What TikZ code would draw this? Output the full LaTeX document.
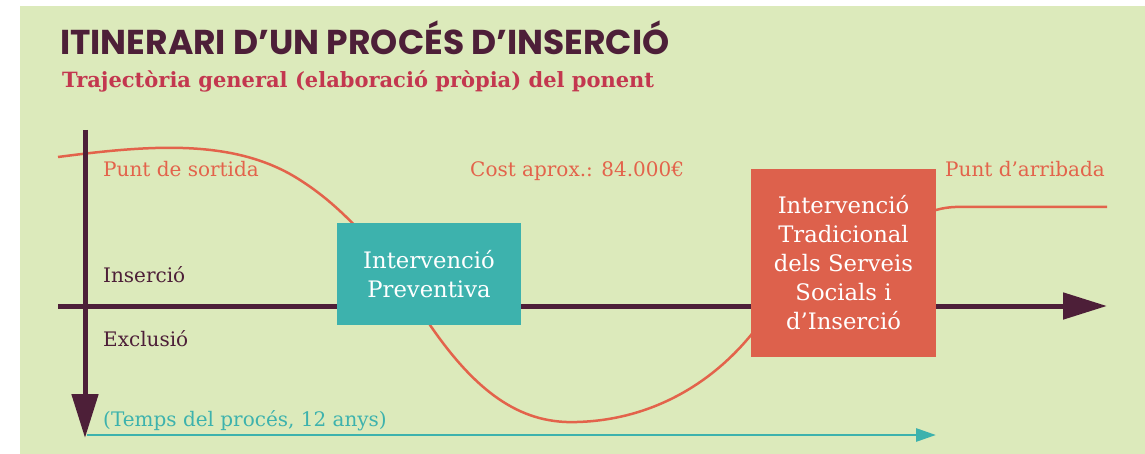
\documentclass[tikz,border=0pt]{standalone}
\usepackage{fontspec}
\usetikzlibrary{arrows.meta}
\setmainfont{DejaVu Serif}
\newfontfamily\titlefont{Poppins}
\newfontfamily\subfont{DejaVu Serif}
\definecolor{bggreen}{HTML}{DCEABB}
\definecolor{maroon}{HTML}{4D1F38}
\definecolor{curvered}{HTML}{E3634B}
\definecolor{tealc}{HTML}{3DB2AD}
\definecolor{boxred}{HTML}{DD614C}
\definecolor{subred}{HTML}{C3374F}
\tikzset{
  lbl/.style={inner sep=0pt, anchor=base west, font=\fontsize{20}{24}\selectfont},
  axis/.style={draw=maroon, line width=5pt, -{Triangle[length=44pt,width=26pt]}},
  pathline/.style={draw=curvered, line width=2.5pt},
  timeline/.style={draw=tealc, line width=2.8pt, -{Triangle[length=20pt,width=13pt]}},
  boxtext/.style={text=white, align=center, inner sep=0pt, font=\fontsize{22.7}{29}\selectfont},
}
\begin{document}
\begin{tikzpicture}[x=1pt,y=-1pt]
\useasboundingbox (0,0) rectangle (1145,454);
\fill[white] (0,0) rectangle (1145,454);
\fill[bggreen] (20,6) rectangle (1145,454);
% titles
\node[inner sep=0pt, anchor=base west, text=maroon, font=\titlefont\bfseries\fontsize{34.5}{38}\selectfont] (title) at (60,55) {ITINERARI D’UN PROCÉS D’INSERCIÓ};
\node[inner sep=0pt, anchor=base west, text=subred, font=\subfont\bfseries\fontsize{21}{24}\selectfont] (subtitle) at (62,88) {Trajectòria general (elaboració pròpia) del ponent};
% coordinates
\coordinate (vtop) at (85,130);
\coordinate (vbot) at (85,438);
\coordinate (hleft) at (58,306);
\coordinate (hright) at (1107,306);
\coordinate (tstart) at (87,435);
\coordinate (tend) at (936,435);
% curve
\draw[pathline] (58,157) .. controls (150,145) and (235,138) .. (300,180)
  .. controls (360,218) and (400,280) .. (430,325)
  .. controls (480,398) and (525,424) .. (577,422)
  .. controls (650,420) and (710,385) .. (751,335)
  .. controls (800,275) and (880,210) .. (936,210)
  .. controls (950,206) and (960,207) .. (975,207) -- (1107,207);
% axes
\draw[axis] (vtop) -- (vbot);
\draw[axis] (hleft) -- (hright);
\draw[timeline] (tstart) -- (tend);
% boxes
\node[fill=tealc, minimum width=184pt, minimum height=101pt, boxtext] (prev) at (429,274) {Intervenció\\Preventiva};
\node[fill=boxred, minimum width=185pt, minimum height=188pt, boxtext] (trad) at (843.5,263) {Intervenció\\Tradicional\\dels Serveis\\Socials i\\d’Inserció};
% labels
\node[lbl, text=curvered] (start) at (103,177) {Punt de sortida};
\node[lbl, text=maroon] (ins) at (103,282) {Inserció};
\node[lbl, text=maroon] (exc) at (103,346) {Exclusió};
\node[lbl, text=tealc] (temps) at (103,426) {(Temps del procés, 12 anys)};
\node[lbl, text=curvered] (cost) at (470,177) {Cost aprox.: 84.000€};
\node[lbl, text=curvered] (arr) at (945,177) {Punt d’arribada};
\end{tikzpicture}
\end{document}
